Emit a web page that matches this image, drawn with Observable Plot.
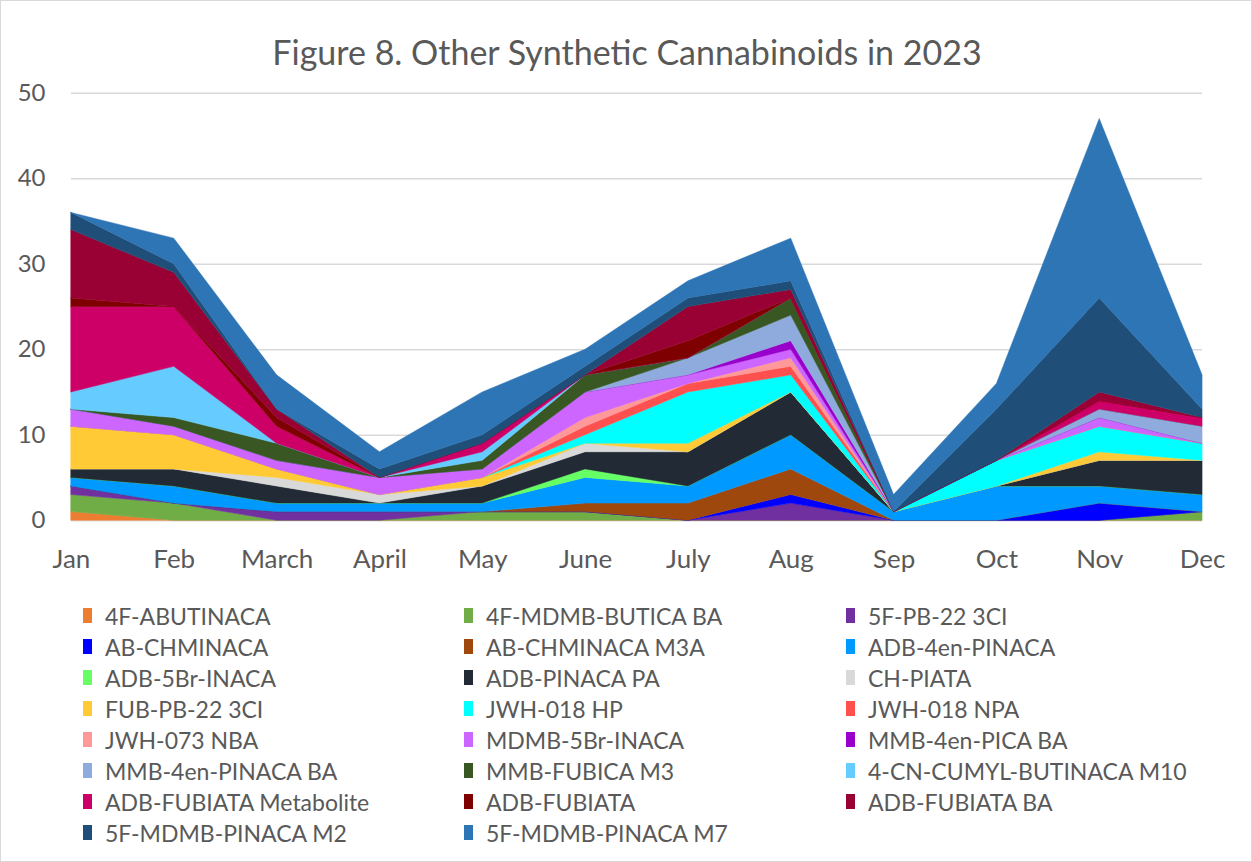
<!DOCTYPE html>
<html>
<head>
<meta charset="utf-8">
<script src="https://cdn.jsdelivr.net/npm/d3@7"></script>
<script src="https://cdn.jsdelivr.net/npm/@observablehq/plot@0.6"></script>
<style>
  html, body { margin: 0; padding: 0; background: #fff; }
  #frame { position: relative; width: 1250px; height: 860px; border: 1px solid #d9d9d9; overflow: hidden; font-family: Lato, "Open Sans", sans-serif; color: #595959; }
  #title { position: absolute; left: 0; top: 30px; width: 1252px; text-align: center; font-size: 34px; color: #595959; }
  #chart { position: absolute; left: 0; top: 0; }
  #legend { position: absolute; left: 82px; top: 599px; display: grid; grid-template-columns: 381px 382px 380px; grid-auto-rows: 31px; font-size: 23px; color: #595959; }
  .item { display: flex; align-items: center; white-space: nowrap; }
  .sw { width: 9px; height: 15px; margin-right: 13px; flex: none; }
</style>
</head>
<body>
<div id="frame">
  <div id="chart"></div>
  <div id="title">Figure 8. Other Synthetic Cannabinoids in 2023</div>
  <div id="legend"></div>
</div>
<script>
const months = ["Jan","Feb","March","April","May","June","July","Aug","Sep","Oct","Nov","Dec"];
const yTicks = [0, 10, 20, 30, 40, 50];

// series values, Jan..Dec
const s4F_ABUTINACA      = [1,0,0,0,0,0,0,0,0,0,0,0];
const s4F_MDMB_BUTICA_BA = [2,2,0,0,1,1,0,0,0,0,0,1];
const s5F_PB22_3CI       = [1,0,1,1,0,0,0,2,0,0,0,0];
const AB_CHMINACA        = [0,0,0,0,0,0,0,1,0,0,2,0];
const AB_CHMINACA_M3A    = [0,0,0,0,0,1,2,3,0,0,0,0];
const ADB_4en_PINACA     = [1,2,1,1,1,3,2,4,1,4,2,2];
const ADB_5Br_INACA      = [0,0,0,0,0,1,0,0,0,0,0,0];
const ADB_PINACA_PA      = [1,2,2,0,2,2,4,5,0,0,3,4];
const CH_PIATA           = [0,0,1,1,0,1,0,0,0,0,0,0];
const FUB_PB22_3CI       = [5,4,1,0,1,0,1,0,0,0,1,0];
const JWH018_HP          = [0,0,0,0,0,1,6,2,0,3,3,2];
const JWH018_NPA         = [0,0,0,0,0,1,1,1,0,0,0,0];
const JWH073_NBA         = [0,0,0,0,0,1,0,1,0,0,0,0];
const MDMB_5Br_INACA     = [2,1,1,2,1,3,1,1,0,0,1,0];
const MMB_4en_PICA_BA    = [0,0,0,0,0,0,0,1,0,0,0,0];
const MMB_4en_PINACA_BA  = [0,0,0,0,0,0,2,3,0,0,1,2];
const MMB_FUBICA_M3      = [0,1,2,0,1,2,0,2,0,0,0,0];
const CN_CUMYL_M10       = [2,6,0,0,1,0,0,0,0,0,0,0];
const ADB_FUBIATA_Met    = [10,7,2,0,1,0,0,0,0,0,1,1];
const ADB_FUBIATA        = [1,0,1,0,0,0,2,0,0,0,0,0];
const ADB_FUBIATA_BA     = [8,4,1,0,0,0,4,1,0,0,1,0];
const MDMB_M2            = [2,1,0,1,1,1,1,1,0,6,11,1];
const MDMB_M7            = [0,3,4,2,5,2,2,5,2,3,21,4];

const seriesNames = ["4F-ABUTINACA","4F-MDMB-BUTICA BA","5F-PB-22 3CI","AB-CHMINACA","AB-CHMINACA M3A","ADB-4en-PINACA","ADB-5Br-INACA","ADB-PINACA PA","CH-PIATA","FUB-PB-22 3CI","JWH-018 HP","JWH-018 NPA","JWH-073 NBA","MDMB-5Br-INACA","MMB-4en-PICA BA","MMB-4en-PINACA BA","MMB-FUBICA M3","4-CN-CUMYL-BUTINACA M10","ADB-FUBIATA Metabolite","ADB-FUBIATA","ADB-FUBIATA BA","5F-MDMB-PINACA M2","5F-MDMB-PINACA M7"];
const seriesValues = [s4F_ABUTINACA,s4F_MDMB_BUTICA_BA,s5F_PB22_3CI,AB_CHMINACA,AB_CHMINACA_M3A,ADB_4en_PINACA,ADB_5Br_INACA,ADB_PINACA_PA,CH_PIATA,FUB_PB22_3CI,JWH018_HP,JWH018_NPA,JWH073_NBA,MDMB_5Br_INACA,MMB_4en_PICA_BA,MMB_4en_PINACA_BA,MMB_FUBICA_M3,CN_CUMYL_M10,ADB_FUBIATA_Met,ADB_FUBIATA,ADB_FUBIATA_BA,MDMB_M2,MDMB_M7];
const seriesColors = ["#ED7D31","#70AD47","#7030A0","#0000FF","#9E480E","#0099FF","#66FF66","#222A35","#D9D9D9","#FFCA35","#00FFFF","#FF5050","#FF9999","#CC66FF","#9900CC","#8FAADC","#385723","#66CCFF","#CC0066","#7F0000","#990033","#1F4E79","#2E75B6"];

const data = [];
seriesNames.forEach((name, i) => {
  months.forEach((m, j) => data.push({series: name, month: m, value: seriesValues[i][j]}));
});

const chart = Plot.plot({
  width: 1252,
  height: 580,
  marginTop: 92,
  marginBottom: 60,
  marginLeft: 70,
  marginRight: 49,
  style: {fontFamily: "Lato, 'Open Sans', sans-serif", fontSize: "24px", color: "#595959", background: "transparent", overflow: "visible"},
  x: {type: "point", domain: months, padding: 0},
  y: {domain: [0, 50]},
  color: {domain: seriesNames, range: seriesColors},
  marks: [
    Plot.gridY(yTicks, {stroke: "#d9d9d9", strokeOpacity: 1, strokeWidth: 1.5}),
    Plot.areaY(data, {x: "month", y: "value", z: "series", fill: "series", order: seriesNames, stroke: "series", strokeWidth: 0.5, fillOpacity: 1}),
    Plot.axisY(yTicks, {tickSize: 0, tickPadding: 26, fontSize: 24, label: null}),
    Plot.axisX({tickSize: 0, tickPadding: 29, fontSize: 26, label: null})
  ]
});
document.getElementById("chart").appendChild(chart);

const legend = document.getElementById("legend");
seriesNames.forEach((name, i) => {
  const it = document.createElement("div");
  it.className = "item";
  const sw = document.createElement("span");
  sw.className = "sw";
  sw.style.background = seriesColors[i];
  const tx = document.createElement("span");
  tx.textContent = name;
  it.appendChild(sw);
  it.appendChild(tx);
  legend.appendChild(it);
});
</script>
</body>
</html>
